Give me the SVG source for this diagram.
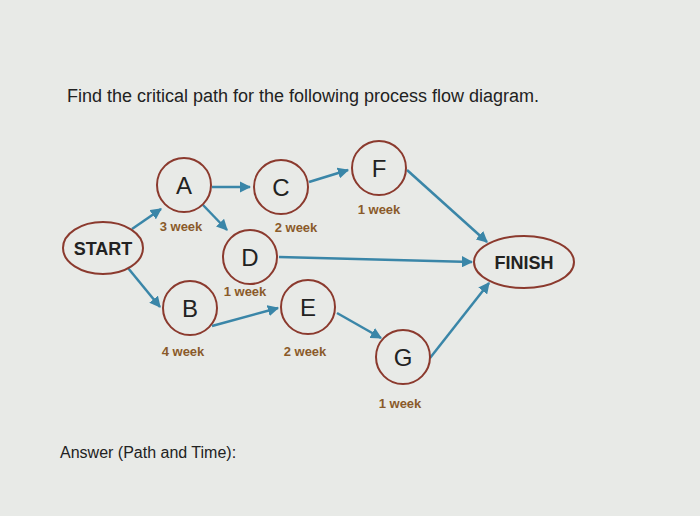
<svg xmlns="http://www.w3.org/2000/svg" width="700" height="516" viewBox="0 0 700 516">
<style>
.n{fill:none;stroke:#8b3a2e;stroke-width:2}
.t{font-family:"Liberation Sans",Arial,sans-serif;fill:#222;text-anchor:middle}
.w{font-family:"Liberation Sans",Arial,sans-serif;font-weight:bold;font-size:13px;fill:#8a5a2a;text-anchor:middle}
.c line{stroke:#3a86a8;stroke-width:2.5;marker-end:url(#ah)}
</style>
<defs><marker id="ah" viewBox="0 0 10 10" refX="9" refY="5" markerWidth="4.5" markerHeight="4.5" orient="auto"><path d="M0,0L10,5L0,10z" fill="#3a86a8"/></marker></defs>
<rect width="700" height="516" fill="#e8eae7"/>
<text x="303" y="102" class="t" font-size="18">Find the critical path for the following process flow diagram.</text>
<text x="60" y="458" class="t" font-size="16" style="text-anchor:start">Answer (Path and Time):</text>
<g class="c">
<line x1="132" y1="229" x2="161" y2="209"/>
<line x1="128" y1="268" x2="160" y2="307"/>
<line x1="212" y1="187" x2="250" y2="187"/>
<line x1="203" y1="205" x2="227" y2="230"/>
<line x1="309" y1="182" x2="348" y2="170"/>
<line x1="407" y1="170" x2="487" y2="242"/>
<line x1="279" y1="257" x2="472" y2="262"/>
<line x1="212" y1="326" x2="278" y2="308"/>
<line x1="337" y1="313" x2="381" y2="338"/>
<line x1="430" y1="358" x2="489" y2="283"/>
</g>
<g id="start"><ellipse cx="103" cy="248" rx="40" ry="26" class="n"/><text x="103" y="255" class="t" font-size="18" font-weight="bold">START</text></g>
<g id="A"><circle cx="184" cy="185" r="27" class="n"/><text x="184" y="194" class="t" font-size="24">A</text><text x="181" y="231" class="w">3 week</text></g>
<g id="C"><circle cx="281" cy="187" r="27" class="n"/><text x="281" y="196" class="t" font-size="24">C</text><text x="296" y="232" class="w">2 week</text></g>
<g id="F"><circle cx="379" cy="168" r="27" class="n"/><text x="379" y="177" class="t" font-size="24">F</text><text x="379" y="214" class="w">1 week</text></g>
<g id="D"><circle cx="250" cy="257" r="27" class="n"/><text x="250" y="266" class="t" font-size="24">D</text><text x="245" y="296" class="w">1 week</text></g>
<g id="B"><circle cx="190" cy="308" r="27" class="n"/><text x="190" y="317" class="t" font-size="24">B</text><text x="183" y="356" class="w">4 week</text></g>
<g id="E"><circle cx="308" cy="307" r="27" class="n"/><text x="308" y="316" class="t" font-size="24">E</text><text x="305" y="356" class="w">2 week</text></g>
<g id="G"><circle cx="403" cy="357" r="27" class="n"/><text x="403" y="366" class="t" font-size="24">G</text><text x="400" y="408" class="w">1 week</text></g>
<g id="finish"><ellipse cx="524" cy="262" rx="50" ry="26" class="n"/><text x="524" y="269" class="t" font-size="18" font-weight="bold">FINISH</text></g>
</svg>
